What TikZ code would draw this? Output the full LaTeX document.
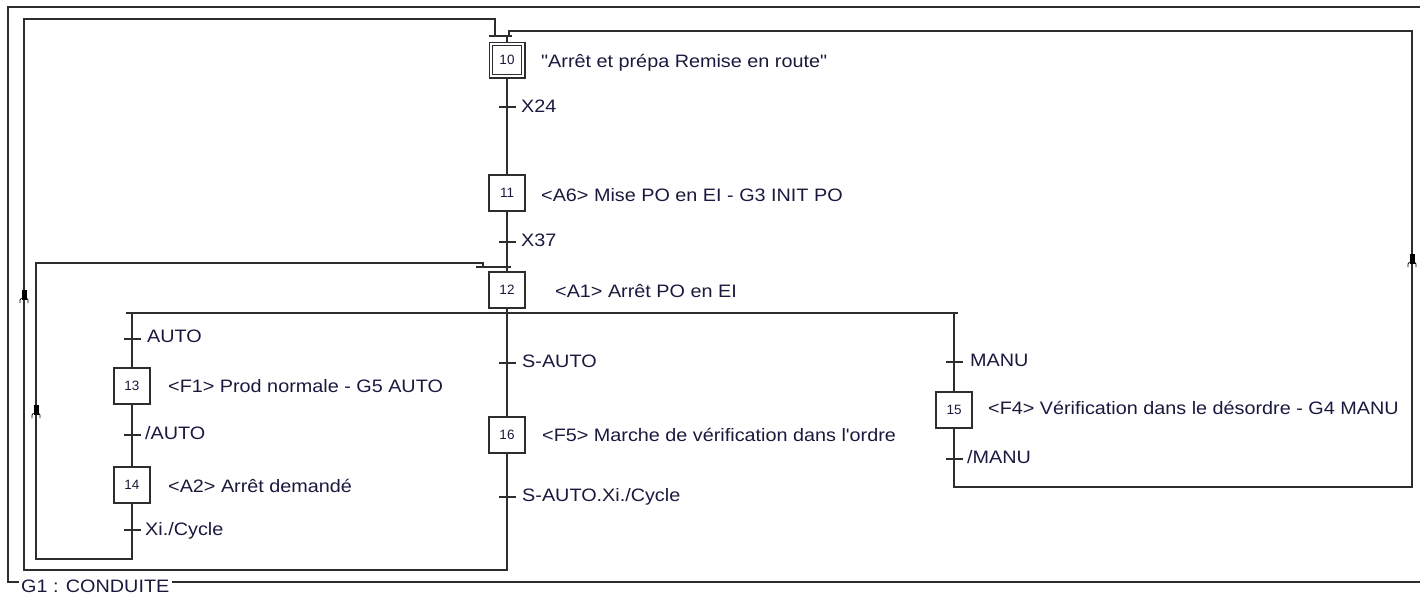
\documentclass[tikz,border=0pt]{standalone}
\usepackage{fontspec}
\setmainfont{Liberation Sans}
\definecolor{ln}{RGB}{45,45,45}
\definecolor{txt}{RGB}{25,25,62}
\newcommand{\sx}[1]{\scalebox{1.1}[1]{#1}}
\begin{document}
\begin{tikzpicture}[x=1pt,y=-1pt,
  wire/.style={draw=ln, line width=1.4pt},
  stepbox/.style={draw=ln, line width=1.4pt, minimum width=36pt, minimum height=36pt, inner sep=0pt, font=\fontsize{13.5}{14}\selectfont, text=txt},
  initstep/.style={stepbox, double, double distance=2.3pt, line width=1.1pt, minimum width=32.5pt, minimum height=32.5pt},
  trans/.style={fill=ln, minimum width=17pt, minimum height=1.4pt, inner sep=0pt, outer sep=0pt},
  lab/.style={anchor=base west, inner sep=0pt, text=txt, font=\fontsize{18}{19}\selectfont},
  upmark/.pic={
    \fill[black] (-2.5,-5) rectangle (2.5,5);
    \draw[black, line width=0.8pt] (-2.5,3) -- (-4,5) -- (-4,8);
    \draw[black, line width=0.8pt] (2.5,3) -- (4,5) -- (4,8);
  }
]
\useasboundingbox (0,0) rectangle (1420,595);

% steps
\node[initstep] (s10) at (507,60) {10};
\node[stepbox] (s11) at (507,193) {11};
\node[stepbox] (s12) at (507,290) {12};
\node[stepbox] (s13) at (132,386) {13};
\node[stepbox] (s14) at (132,485) {14};
\node[stepbox] (s16) at (507,435) {16};
\node[stepbox] (s15) at (954,410) {15};

% transitions
\node[trans] (t1) at (507,107) {};
\node[trans] (t2) at (507,242) {};
\node[trans] (t3) at (132,339) {};
\node[trans] (t4) at (132,435) {};
\node[trans] (t5) at (132,530) {};
\node[trans] (t6) at (507,363) {};
\node[trans] (t7) at (507,497) {};
\node[trans] (t8) at (954,362) {};
\node[trans] (t9) at (954,459) {};

% labels
\node[lab] (a10) at (541,67) {\sx{\textquotedbl Arrêt et prépa Remise en route\textquotedbl}};
\node[lab] (l1) at (521,112) {\sx{X24}};
\node[lab] (a11) at (541,201) {\sx{<A6> Mise PO en EI - G3 INIT PO}};
\node[lab] (l2) at (521,246) {\sx{X37}};
\node[lab] (a12) at (555,297) {\sx{<A1> Arrêt PO en EI}};
\node[lab] (l3) at (147,342) {\sx{AUTO}};
\node[lab] (a13) at (168,392) {\sx{<F1> Prod normale - G5 AUTO}};
\node[lab] (l4) at (145,439) {\sx{/AUTO}};
\node[lab] (a14) at (168,492) {\sx{<A2> Arrêt demandé}};
\node[lab] (l5) at (145,535) {\sx{Xi./Cycle}};
\node[lab] (l6) at (522,367) {\sx{S-AUTO}};
\node[lab] (a16) at (542,441) {\sx{<F5> Marche de vérification dans l\textquotesingle ordre}};
\node[lab] (l7) at (522,501) {\sx{S-AUTO.Xi./Cycle}};
\node[lab] (l8) at (970,366) {\sx{MANU}};
\node[lab] (a15) at (988,414) {\sx{<F4> Vérification dans le désordre - G4 MANU}};
\node[lab] (l9) at (967,463) {\sx{/MANU}};

% coordinates
\coordinate (c10) at (507,36);
\coordinate (c10l) at (489,36);
\coordinate (c10r) at (512,36);
\coordinate (j12) at (507,267);
\coordinate (j12l) at (476,267);
\coordinate (j12r) at (511,267);
\coordinate (d12) at (507,313);
\coordinate (dl) at (126,313);
\coordinate (dr) at (958,313);
\coordinate (d13) at (132,313);
\coordinate (d15) at (954,313);
\coordinate (la1) at (132,559);
\coordinate (la2) at (36,559);
\coordinate (la3) at (36,263);
\coordinate (la4) at (483,263);
\coordinate (la5) at (483,267);
\coordinate (lb1) at (507,570);
\coordinate (lb2) at (24,570);
\coordinate (lb3) at (24,19);
\coordinate (lb4) at (495,19);
\coordinate (lb5) at (495,36);
\coordinate (lc1) at (954,487);
\coordinate (lc2) at (1412,487);
\coordinate (lc3) at (1412,31);
\coordinate (lc4) at (509,31);
\coordinate (lc5) at (509,36);

% main column
\draw[wire] (c10l) -- (c10r);
\draw[wire] (c10) -- (s10.north);
\draw[wire] (s10) -- (t1) -- (s11) -- (t2) -- (j12) -- (s12);
\draw[wire] (j12l) -- (j12r);
\draw[wire] (s12) -- (d12);
\draw[wire] (dl) -- (dr);

% branches
\draw[wire] (d13) -- (t3) -- (s13) -- (t4) -- (s14) -- (t5) -- (la1) -- (la2) -- (la3) -- (la4) -- (la5);
\draw[wire] (d12) -- (t6) -- (s16) -- (t7) -- (lb1) -- (lb2) -- (lb3) -- (lb4) -- (lb5);
\draw[wire] (d15) -- (t8) -- (s15) -- (t9) -- (lc1) -- (lc2) -- (lc3) -- (lc4) -- (lc5);

% arrow marks
\pic at (24,295) {upmark};
\pic at (36,410) {upmark};
\pic at (1412,259) {upmark};

% outer frame
\coordinate (f1) at (1420,7);
\coordinate (f2) at (8,7);
\coordinate (f3) at (8,582);
\coordinate (f6) at (1420,582);
\node[lab, inner xsep=2pt] (g1) at (19,592) {\sx{G1 : CONDUITE}};
\draw[wire] (f1) -- (f2) -- (f3) -- (g1.west |- f3);
\draw[wire] (g1.east |- f3) -- (f6);
\end{tikzpicture}
\end{document}
